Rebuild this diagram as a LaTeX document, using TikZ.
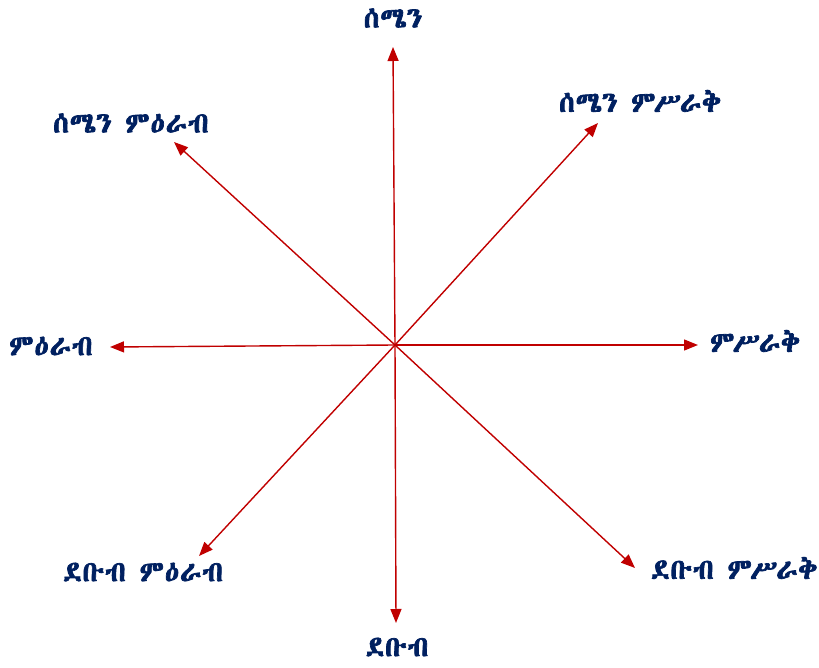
\documentclass[tikz,border=0pt]{standalone}
\usepackage{fontspec}
\usetikzlibrary{arrows.meta}
\IfFontExistsTF{Abyssinica SIL}{\newfontfamily\ethfont[Script=Ethiopic,LetterSpace=3,FakeBold=2.4]{Abyssinica SIL}}{%
 \IfFontExistsTF{Noto Sans Ethiopic}{\newfontfamily\ethfont[Script=Ethiopic,LetterSpace=3,FakeBold=2.4]{Noto Sans Ethiopic}}{%
  \IfFontExistsTF{FreeSerif}{\newfontfamily\ethfont[LetterSpace=3,FakeBold=2.4]{FreeSerif}}{\newfontfamily\ethfont{DejaVu Sans}}}}
\definecolor{navy}{RGB}{0,32,96}
\definecolor{darkred}{RGB}{192,0,0}
\tikzset{
  dirarrow/.style={draw=darkred, line width=1.4pt, -{Triangle[length=14pt,width=11pt]}},
  dirlabel/.style={text=navy, font=\ethfont\fontsize{28.5}{31}\selectfont, inner sep=0pt}
}
\begin{document}
\begin{tikzpicture}[x=1pt,y=-1pt]
\useasboundingbox (0,0) rectangle (819,668);
\coordinate (c) at (395,345);
\coordinate (tn) at (393,47);
\coordinate (ts) at (396,623);
\coordinate (te) at (698,345);
\coordinate (tw) at (110,347);
\coordinate (tne) at (598,123);
\coordinate (tnw) at (174,142);
\coordinate (tsw) at (199,556);
\coordinate (tse) at (635,568);
\foreach \t in {tn,ts,te,tw,tne,tnw,tsw,tse} \draw[dirarrow] (c) -- (\t);
\node[dirlabel] (ln) at (393,18) {ሰሜን};
\node[dirlabel] (lne) at (640,101) {ሰሜን ምሥራቅ};
\node[dirlabel] (lnw) at (131,123) {ሰሜን ምዕራብ};
\node[dirlabel] (lw) at (51,346) {ምዕራብ};
\node[dirlabel] (le) at (755,341) {ምሥራቅ};
\node[dirlabel] (lsw) at (143,572) {ደቡብ ምዕራብ};
\node[dirlabel] (lse) at (734,568) {ደቡብ ምሥራቅ};
\node[dirlabel] (ls) at (397,647) {ደቡብ};
\end{tikzpicture}
\end{document}
